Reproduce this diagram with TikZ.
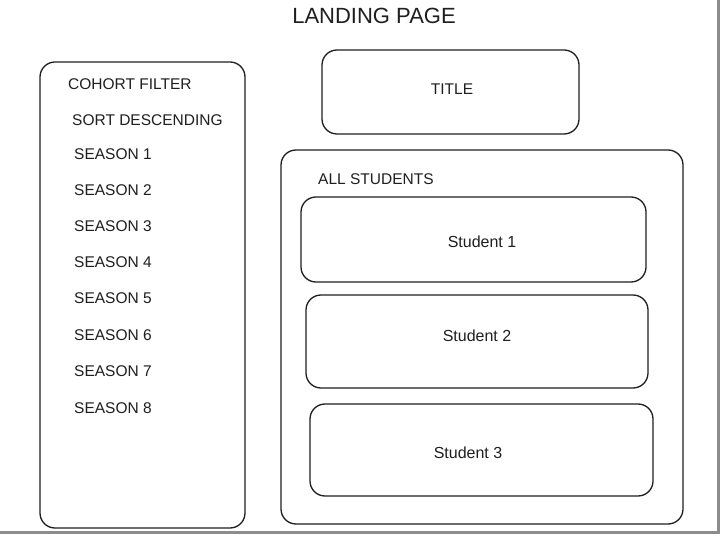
\documentclass[tikz,border=0pt]{standalone}
\usepackage{fontspec}
\setmainfont{Liberation Sans}
\tikzset{
  sketchbox/.style={draw=black!88,line width=1.3pt,rounded corners=15pt,inner sep=0pt},
  lbl/.style={font=\fontsize{15.5}{17}\selectfont,text=black!88,inner sep=0pt}
}
\begin{document}
\begin{tikzpicture}[x=1pt,y=-1pt]
            \useasboundingbox (0,0) rectangle (720,534);
            \fill[white] (0,0) rectangle (720,534);
            \fill[black!45] (716.5,0) rectangle (720,534);
            \fill[black!45] (0,531) rectangle (720,534);
            \draw (374,16) node[lbl,font=\fontsize{22}{24}\selectfont] (heading) {LANDING PAGE};
            % left filter column
            \node[sketchbox,minimum width=205pt,minimum height=466pt] (filterbox) at (142.5,295) {};
            \draw (68,84) node[lbl,anchor=west] (cohort) {COHORT FILTER};
            \draw (72,120) node[lbl,anchor=west] (sortdesc) {SORT DESCENDING};
            \draw (74,154) node[lbl,anchor=west] (season1) {SEASON 1};
            \draw (74,190) node[lbl,anchor=west] (season2) {SEASON 2};
            \draw (74,226) node[lbl,anchor=west] (season3) {SEASON 3};
            \draw (74,262) node[lbl,anchor=west] (season4) {SEASON 4};
            \draw (74,298) node[lbl,anchor=west] (season5) {SEASON 5};
            \draw (74,335) node[lbl,anchor=west] (season6) {SEASON 6};
            \draw (74,371) node[lbl,anchor=west] (season7) {SEASON 7};
            \draw (74,408) node[lbl,anchor=west] (season8) {SEASON 8};
            % title
            \node[sketchbox,minimum width=257pt,minimum height=84pt] (titlebox) at (450.5,92) {};
            \draw (452,89) node[lbl] (titletext) {TITLE};
            % students
            \node[sketchbox,minimum width=402pt,minimum height=374pt] (allbox) at (482,337) {};
            \draw (318,179) node[lbl,anchor=west] (alltext) {ALL STUDENTS};
            \node[sketchbox,minimum width=345pt,minimum height=85pt] (student1) at (473.5,239.5) {};
            \draw (482,242) node[lbl,font=\fontsize{16}{18}\selectfont] (s1text) {Student 1};
            \node[sketchbox,minimum width=342pt,minimum height=93pt] (student2) at (477,341.5) {};
            \draw (477,336) node[lbl,font=\fontsize{16}{18}\selectfont] (s2text) {Student 2};
            \node[sketchbox,minimum width=343pt,minimum height=92pt] (student3) at (481.5,450) {};
            \draw (468,453) node[lbl,font=\fontsize{16}{18}\selectfont] (s3text) {Student 3};
\end{tikzpicture}
\end{document}
